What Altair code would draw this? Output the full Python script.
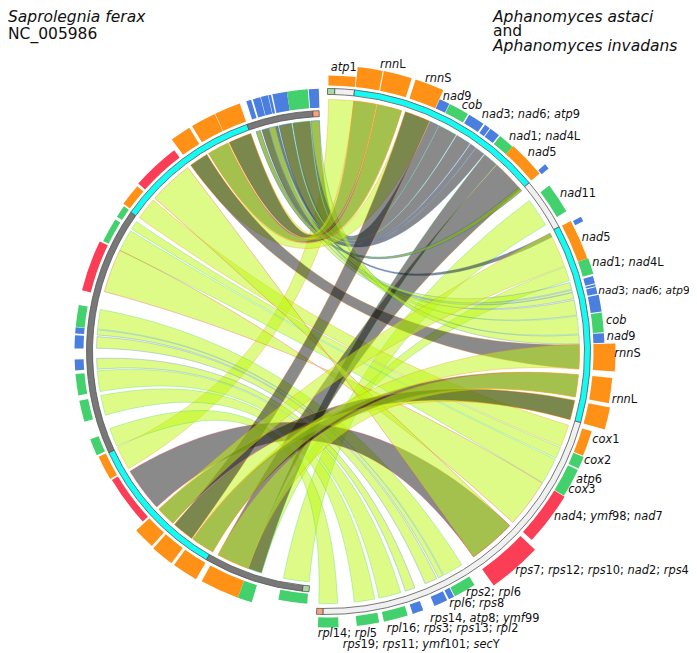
import math
import re
import altair as alt
import pandas as pd

W, H = 681, 645
CX, CY = 327.5, 351.5          # centre of the two concentric genomes on the page
RIGHT_RIBBON_R, LEFT_RIBBON_R = 252.0, 231.0

ORANGE, GREEN, BLUE, RED = "#ff9117", "#43d16e", "#4a7fe0", "#fb3d55"
CYAN, GREY, PALE, PGREEN, PORANGE = "#14fbf4", "#787878", "#f0f0f0", "#a6d9a0", "#f9a27e"
LIME_FILL, GREY_FILL = "rgba(190,248,15,0.5)", "rgba(21,21,21,0.5)"

# outer gene blocks: start angle, end angle, inner radius, outer radius, colour
BLOCK_START = [0.2, 6.07, 11.38, 17.95, 24.0, 26.3, 30.9, 34.8, 36.2, 38.7, 42.1, 49.3, 53.2, 61.8, 62.0, 70.3, 74.1, 75.9, 76.5, 78.2, 81.9, 86.2, 88.4, 95.3, 101.2, 106.8, 112.4, 115.3, 121.5, 133.7, 147.8, 152.7, 154.3, 159.7, 163.1, 169.2, 177.7,
               184.6, 196.8, 200.0, 210.0, 216.4, 222.1, 227.4, 239.6, 245.8, 253.9, 260.0, 265.7, 270.7, 274.1, 275.6, 284.0, 296.2, 302.6, 305.9, 311.6, 323.7, 329.0, 334.7, 342.0, 343.5, 345.3, 347.0, 347.9, 351.1, 355.9]
BLOCK_END = [5.9, 11.16, 17.13, 23.9, 26.2, 30.6, 34.4, 36.0, 38.4, 42.1, 50.0, 50.4, 59.6, 70.3, 63.0, 73.7, 75.7, 76.3, 77.9, 81.7, 86.0, 88.2, 94.0, 100.4, 105.7, 112.2, 115.0, 121.4, 132.7, 144.6, 152.5, 153.9, 157.2, 162.0, 168.2, 173.9, 182.0,
             191.2, 200.0, 208.7, 215.7, 221.5, 226.9, 239.2, 245.3, 249.7, 258.8, 264.9, 268.2, 273.7, 275.5, 280.6, 295.8, 301.9, 305.5, 311.0, 322.7, 328.3, 334.6, 340.5, 343.1, 345.2, 346.9, 347.6, 351.1, 355.7, 358.1]
BLOCK_R0 = [266, 266, 266, 266, 266, 266, 266, 266, 266, 266, 266, 278, 266, 266, 278, 266, 266, 266, 266, 266, 266, 266, 266, 266, 266, 266, 266, 266, 266, 267, 266, 266, 266, 266, 266, 266, 266,
            243, 244, 244, 244, 244, 244, 244, 244, 244, 244, 244, 244, 244, 244, 244, 244, 244, 244, 244, 244, 244, 244, 244, 244, 244, 244, 244, 244, 244, 244]
BLOCK_R1 = [276, 286, 286, 286, 276, 276, 276, 276, 276, 276, 277, 287, 277, 276, 287, 277, 276, 276, 276, 277, 277, 277, 288, 286, 288, 276, 277, 277, 278, 287, 276, 276, 276, 276, 276, 276, 276,
            253, 262, 262, 263, 263, 262, 251, 252, 253, 253, 253, 253, 253, 253, 253, 253, 250, 250, 252, 253, 263, 263, 263, 263, 263, 263, 263, 263, 263, 263]
BLOCK_COL = [ORANGE, ORANGE, ORANGE, ORANGE, BLUE, GREEN, BLUE, BLUE, BLUE, GREEN, ORANGE, BLUE, GREEN, ORANGE, BLUE, GREEN, BLUE, BLUE, BLUE, BLUE, GREEN, BLUE, ORANGE, ORANGE, ORANGE, ORANGE, GREEN, GREEN, RED, RED, GREEN, BLUE, BLUE, BLUE, GREEN, GREEN, GREEN,
             GREEN, GREEN, ORANGE, ORANGE, ORANGE, ORANGE, RED, ORANGE, GREEN, GREEN, GREEN, BLUE, BLUE, BLUE, GREEN, RED, GREEN, GREEN, ORANGE, RED, ORANGE, ORANGE, ORANGE, BLUE, BLUE, BLUE, BLUE, BLUE, GREEN, BLUE]

# backbone ring segments
RING_START = [0.0, 1.6, 5.9, 50.1, 61.7, 105.7, 181.0, 184.4, 186.0, 210.2, 245.2, 305.3, 340.5, 356.5]
RING_END = [1.6, 5.9, 50.1, 61.7, 105.7, 181.0, 182.4, 186.0, 210.2, 245.2, 305.3, 340.5, 356.5, 358.0]
RING_R0 = [257] * 7 + [235] * 7
RING_R1 = [263] * 7 + [241] * 7
RING_COL = [PGREEN, PALE, CYAN, PALE, CYAN, PALE, PORANGE, PGREEN, GREY, CYAN, GREY, CYAN, GREY, PORANGE]

# ribbons, in drawing order
L, G = "lime", "grey"
RIB_KIND = [L] * 18 + [G] * 9 + [L, L, L, G, L] + [G, L, G, L, L, L, G, G, G, G, L, L, L]
RIB_R0 = [0.2, 53.2, 70.4, 107.0, 112.4, 115.3, 121.5, 147.8, 152.7, 154.3, 159.7, 163.1, 169.2, 177.7, 76.5, 78.2, 81.9, 75.9,
          49.3, 34.6, 24.0, 62.0, 36.1, 30.9, 26.3, 42.2, 38.6,
          49.3, 74.1, 86.2, 133.7, 133.7,
          11.4, 11.4, 6.0, 6.0, 18.0, 101.2, 18.0, 88.4, 95.3, 101.2, 62.0, 88.4, 95.3]
RIB_R1 = [6.0, 59.9, 73.7, 112.1, 115.0, 121.4, 132.7, 152.5, 153.9, 157.2, 162.0, 168.2, 173.9, 182.0, 77.9, 81.7, 86.0, 76.4,
          50.4, 36.0, 26.2, 63.0, 38.4, 34.4, 30.7, 50.0, 42.1,
          50.4, 75.7, 88.2, 144.6, 144.6,
          17.1, 17.1, 11.2, 11.2, 23.9, 105.7, 23.9, 94.0, 100.4, 105.7, 70.2, 94.0, 100.4]
RIB_L0 = [239.5, 184.5, 196.6, 305.4, 302.0, 295.9, 285.0, 275.6, 274.1, 270.8, 265.6, 260.0, 254.0, 245.8, 343.5, 347.9, 351.3, 347.0,
          342.0, 345.3, 355.9, 347.0, 343.5, 347.9, 351.3, 200.1, 196.6,
          342.0, 345.3, 355.9, 227.7, 311.6,
          329.0, 334.8, 334.8, 329.0, 323.7, 216.0, 216.0, 323.7, 209.8, 222.0, 222.0, 209.8, 200.1]
RIB_L1 = [245.5, 191.0, 200.0, 311.0, 304.2, 301.5, 296.0, 280.5, 275.4, 273.7, 268.3, 265.2, 259.0, 250.5, 345.2, 351.0, 355.7, 347.6,
          343.1, 346.9, 358.0, 347.6, 345.2, 351.0, 355.7, 208.3, 200.0,
          343.1, 346.9, 358.0, 238.8, 322.8,
          334.5, 340.6, 340.6, 334.5, 328.5, 221.5, 221.5, 328.5, 215.7, 226.9, 226.9, 215.7, 208.3]
RIB_EDGE = [ORANGE, GREEN, GREEN, ORANGE, GREEN, GREEN, RED, GREEN, BLUE, BLUE, BLUE, GREEN, GREEN, GREEN, BLUE, BLUE, GREEN, BLUE,
            BLUE, BLUE, BLUE, BLUE, BLUE, BLUE, GREEN, ORANGE, GREEN,
            BLUE, BLUE, BLUE, RED, RED] + [ORANGE] * 13
RIB_TWIST = [False] * 6 + [True] + [False] * 24 + [True] + [False] * 13

# labels: left edge and vertical centre on the page
LAB_TEXT = ["atp1", "rnnL", "rnnS", "nad9", "cob", "nad3; nad6; atp9", "nad1; nad4L", "nad5", "nad11", "nad5", "nad1; nad4L",
            "nad3; nad6; atp9", "cob", "nad9", "rnnS", "rnnL", "cox1", "cox2", "atp6", "cox3", "nad4; ymf98; nad7",
            "rps7; rps12; rps10; nad2; rps4", "rps2; rpl6", "rpl6; rps8", "rps14, atp8; ymf99", "rpl16; rps3; rps13; rpl2",
            "rps19; rps11; ymf101; secY", "rpl14; rpl5"]
LAB_X = [330.7, 380, 425, 442.7, 461.7, 481.7, 509, 527.7, 560, 581.7, 592.3, 598.3, 606, 606.7, 614.3, 611.7, 592.3, 584, 576, 568.3, 554, 515.3, 466, 449.3, 430, 386.7, 342.7, 317.7]
LAB_Y = [68.3, 65, 79, 97.3, 105.7, 115, 136.7, 152.7, 194, 237.7, 262.7, 290.7, 320.7, 336.7, 354.3, 400, 440, 461, 480, 490, 516.7, 571, 593.3, 604, 618.5, 629.3, 645.3, 634]
LAB_FS = [11.4] * 11 + [10.6] + [11.4] * 16

TITLE_ITALIC = ["Saprolegnia ferax", "Aphanomyces astaci", "Aphanomyces invadans"]
TITLE_ITALIC_X = [8, 493, 493]
TITLE_ITALIC_Y = [17, 16.5, 45.5]
TITLE_PLAIN = ["NC_005986", "and"]
TITLE_PLAIN_X = [8, 493]
TITLE_PLAIN_Y = [34, 31]

EM = dict(a=.613, b=.635, c=.55, d=.635, e=.615, f=.352, g=.635, h=.634, i=.278, j=.278, k=.579, l=.278, m=.974, n=.634,
          o=.612, p=.635, q=.635, r=.411, s=.521, t=.392, u=.634, v=.592, w=.818, x=.592, y=.592, z=.525, L=.557, S=.635,
          Y=.611)
EM.update({" ": .318, ";": .337, ",": .318})


def pol(angle, r):
    t = math.radians(angle)
    return r * math.sin(t), r * math.cos(t)


def chord(p0, p1):
    out = []
    for i in range(1, 40):
        t = i / 40
        out.append(((1 - t) ** 2 * p0[0] + t ** 2 * p1[0], (1 - t) ** 2 * p0[1] + t ** 2 * p1[1]))
    return out


def ribbon_points(r0, r1, l0, l1, twist):
    a, b = (l1, l0) if twist else (l0, l1)
    na = max(2, int((r1 - r0) * 2))
    nb = max(2, int(abs(b - a) * 2))
    pts = [pol(r0 + (r1 - r0) * i / na, RIGHT_RIBBON_R) for i in range(na + 1)]
    pts += chord(pol(r1, RIGHT_RIBBON_R), pol(a, LEFT_RIBBON_R))
    pts += [pol(a + (b - a) * i / nb, LEFT_RIBBON_R) for i in range(nb + 1)]
    pts += chord(pol(b, LEFT_RIBBON_R), pol(r0, RIGHT_RIBBON_R))
    return pts


rows = []
for k in range(len(RIB_KIND)):
    fill = LIME_FILL if RIB_KIND[k] == L else GREY_FILL
    for j, (x, y) in enumerate(ribbon_points(RIB_R0[k], RIB_R1[k], RIB_L0[k], RIB_L1[k], RIB_TWIST[k])):
        rows.append(dict(id=f"r{k:03d}", seq=j, x=x, y=y, fill=fill, edge=RIB_EDGE[k]))
rib_df = pd.DataFrame(rows)

xs = alt.Scale(domain=[8 - CX, 8 + W - CX], range=[0, W])
ys = alt.Scale(domain=[CY - 8 - H, CY - 8], range=[H, 0])
X = alt.X("x:Q", scale=xs, axis=None)
Y = alt.Y("y:Q", scale=ys, axis=None)

ribbons = alt.Chart(rib_df).mark_line(interpolate="linear-closed", strokeWidth=0.7, strokeOpacity=0.45).encode(
    x=X, y=Y, order="seq:Q", detail="id:N",
    fill=alt.Fill("fill:N", scale=None), stroke=alt.Stroke("edge:N", scale=None))

theta_scale = alt.Scale(domain=[0, 360], range=[0, 2 * math.pi])
rad_scale = alt.Scale(domain=[0, 320], range=[0, 320])


def arcs(a0, a1, r0, r1, col, **mark):
    df = pd.DataFrame(dict(a0=a0, a1=a1, r0=r0, r1=r1, col=col))
    return alt.Chart(df).mark_arc(**mark).encode(
        theta=alt.Theta("a0:Q", scale=theta_scale), theta2="a1:Q",
        radius=alt.Radius("r0:Q", scale=rad_scale), radius2="r1:Q",
        x=alt.value(CX - 8), y=alt.value(CY - 8),
        fill=alt.Fill("col:N", scale=None))


blocks = arcs(BLOCK_START, BLOCK_END, BLOCK_R0, BLOCK_R1, BLOCK_COL)
ring = arcs(RING_START, RING_END, RING_R0, RING_R1, RING_COL, stroke="#555555", strokeWidth=0.8)

ital, plain = [], []
for t, lx, ly, fs in zip(LAB_TEXT, LAB_X, LAB_Y, LAB_FS):
    off = 0.0
    for part in re.findall(r"[a-z]+|[^a-z]+", t):
        (ital if part[0].islower() else plain).append(dict(t=part, x=lx + off - CX, y=CY - ly, fs=fs))
        off += sum(EM.get(c, .636) for c in part) * fs


def texts(records, style):
    return alt.Chart(pd.DataFrame(records)).mark_text(
        font="DejaVu Sans", fontStyle=style, align="left", baseline="middle", color="#111111"
    ).encode(x=X, y=Y, text="t:N", size=alt.Size("fs:Q", scale=None))


title_i = [dict(t=t, x=a - CX, y=CY - b, fs=15.5) for t, a, b in zip(TITLE_ITALIC, TITLE_ITALIC_X, TITLE_ITALIC_Y)]
title_p = [dict(t=t, x=a - CX, y=CY - b, fs=15.5) for t, a, b in zip(TITLE_PLAIN, TITLE_PLAIN_X, TITLE_PLAIN_Y)]

chart = alt.layer(ribbons, blocks, ring, texts(ital, "italic"), texts(plain, "normal"),
                  texts(title_i, "italic"), texts(title_p, "normal")).properties(
    width=W, height=H, padding=0, autosize=alt.AutoSizeParams(type="none")
).configure_view(stroke=None)

chart.save("out.html", embed_options={"renderer": "svg", "actions": False})
